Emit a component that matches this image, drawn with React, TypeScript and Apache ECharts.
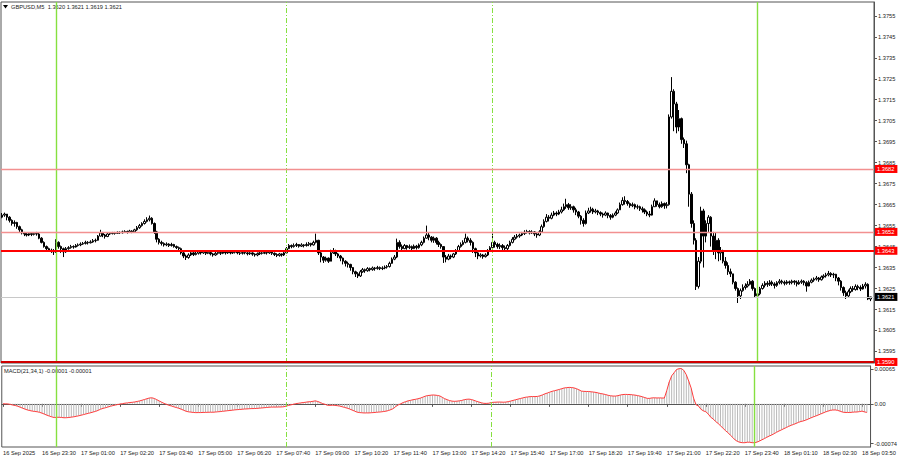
import React, { useEffect, useRef } from "react";
import * as echarts from "echarts";

// GBPUSD M5 bars. Prices are in points above 1.36000 (1 point = 0.00001).
const firstOpen = 590;
const closes = [
  600,605,590,575,560,565,545,530,515,510,
  505,512,508,512,510,490,470,450,440,432,
  430,425,470,450,440,425,440,445,450,448,
  455,458,462,465,470,468,472,478,480,500,
  515,505,498,510,512,515,513,518,516,520,
  522,518,524,520,530,540,550,560,570,578,
  585,560,520,485,470,465,458,462,455,460,
  450,445,440,420,405,398,410,420,412,418,
  425,420,426,418,422,415,410,418,422,418,
  424,420,425,420,423,426,420,418,422,420,
  416,420,414,410,416,420,418,422,420,425,
  418,412,408,415,410,420,440,455,450,455,
  460,452,458,455,460,465,458,470,480,420,
  400,385,395,380,420,430,415,405,395,380,
  370,365,350,330,320,310,330,340,335,345,
  340,348,345,350,345,348,352,355,370,390,
  400,470,450,440,455,445,450,440,452,445,
  458,470,490,505,495,480,490,470,460,450,
  400,390,405,400,415,430,450,460,470,490,
  480,470,440,420,405,410,402,410,430,445,
  470,460,450,455,445,440,455,470,485,495,
  500,505,512,518,522,515,520,510,505,520,
  545,570,590,585,600,610,605,615,625,640,
  650,635,640,625,615,595,575,560,610,620,
  628,615,620,612,605,600,610,598,590,600,
  610,625,650,670,665,655,645,650,638,640,
  630,625,615,605,600,640,668,650,640,655,
  645,650,1068,1190,1130,1020,1060,960,940,840,
  700,560,480,260,380,620,500,560,590,500,
  430,480,420,430,380,360,330,320,280,250,
  215,240,255,262,270,285,250,215,225,250,
  265,275,270,280,272,265,278,285,280,275,
  282,278,285,280,272,280,285,278,262,280,
  290,295,300,292,305,310,315,322,315,318,
  300,285,255,230,215,235,250,245,260,255,
  248,262,270,200,210,
];
const highs = [
  610,612,605,595,580,575,568,550,535,520,
  515,518,516,518,520,515,495,475,455,445,
  440,438,485,475,455,445,448,452,458,456,
  462,465,470,472,478,476,480,486,488,505,
  530,520,510,515,518,520,520,522,522,526,
  528,526,530,528,535,548,558,566,580,590,
  598,590,565,525,490,478,470,470,466,468,
  463,455,450,445,425,412,418,428,425,426,
  432,430,433,428,430,426,420,424,430,428,
  432,428,430,428,430,433,430,425,428,427,
  424,426,423,418,422,426,425,428,427,430,
  428,422,418,420,418,425,448,462,460,465,
  468,462,466,462,470,472,468,478,512,482,
  425,405,402,398,435,443,435,420,410,398,
  385,378,368,352,335,328,338,348,345,352,
  350,355,353,358,355,356,360,362,378,398,
  410,488,480,460,462,458,460,455,460,458,
  465,478,498,550,515,500,498,495,478,465,
  452,410,415,412,420,438,458,470,480,512,
  498,490,475,445,425,418,415,418,438,452,
  512,478,468,465,462,455,462,478,495,505,
  510,512,520,528,530,528,528,524,515,528,
  555,580,605,600,612,620,618,625,640,655,
  678,658,652,645,635,620,600,585,622,635,
  640,635,630,625,618,612,618,612,605,608,
  618,632,660,685,690,672,660,660,655,650,
  645,640,632,622,620,650,680,668,660,665,
  660,662,1080,1258,1200,1140,1101,1065,970,955,
  845,710,575,490,400,640,630,575,600,595,
  520,515,490,448,435,400,375,345,320,285,
  255,250,270,275,285,295,290,255,235,258,
  275,285,285,290,288,280,285,295,292,288,
  290,288,292,290,288,290,293,290,285,288,
  298,303,310,305,312,318,325,334,328,325,
  320,305,290,260,240,245,260,262,270,268,
  265,272,280,275,210,
];
const lows = [
  585,592,575,565,550,545,535,520,508,500,
  498,500,500,503,502,485,465,445,430,425,
  420,410,420,440,420,400,420,435,440,440,
  445,450,452,458,460,460,465,468,470,478,
  498,495,488,495,505,508,507,510,510,512,
  515,512,515,514,518,525,535,545,555,565,
  570,555,510,470,460,455,450,452,448,450,
  445,438,432,412,395,386,392,405,405,408,
  412,412,415,410,414,408,402,406,412,410,
  414,412,415,413,415,417,413,410,412,413,
  408,410,406,402,404,410,412,414,412,415,
  410,405,400,402,402,405,418,438,442,445,
  448,445,448,446,450,452,450,455,465,410,
  375,372,378,372,380,415,405,396,380,365,
  355,350,335,318,305,300,305,325,325,330,
  332,335,335,340,338,338,342,345,350,368,
  385,395,440,430,438,435,438,432,438,436,
  440,452,465,488,480,470,468,460,448,440,
  372,375,385,390,395,410,425,445,455,465,
  470,455,420,400,390,398,392,398,405,425,
  440,445,440,438,430,428,430,450,465,480,
  488,492,500,505,512,508,510,500,492,500,
  518,540,565,570,580,595,595,600,608,620,
  630,625,625,612,600,585,555,545,555,605,
  612,605,608,600,595,588,595,585,578,585,
  595,605,625,645,650,645,635,638,628,628,
  620,612,605,595,590,598,640,640,632,635,
  630,632,645,1060,1000,990,1000,940,920,800,
  640,540,460,243,250,370,350,470,520,450,
  410,390,380,385,370,345,315,305,270,240,
  181,200,235,245,255,265,240,205,200,218,
  245,255,258,262,262,250,258,270,270,265,
  268,268,270,268,260,268,272,265,235,260,
  275,282,288,282,288,298,302,308,305,300,
  285,265,240,215,200,210,228,235,240,242,
  238,245,250,195,190,
];

const symbolName = "GBPUSD,M5";
const macdTitle = "MACD(21,34,1) -0.00001 -0.00001";
const macdFast = 21;
const macdSlow = 34;

const timeLabels = [
  "16 Sep 2025", "16 Sep 23:30", "17 Sep 01:00", "17 Sep 02:20", "17 Sep 03:40",
  "17 Sep 05:00", "17 Sep 06:20", "17 Sep 07:40", "17 Sep 09:00", "17 Sep 10:20",
  "17 Sep 11:40", "17 Sep 13:00", "17 Sep 14:20", "17 Sep 15:40", "17 Sep 17:00",
  "17 Sep 18:20", "17 Sep 19:40", "17 Sep 21:00", "17 Sep 22:20", "17 Sep 23:40",
  "18 Sep 01:10", "18 Sep 02:30", "18 Sep 03:50",
];
const barsPerTimeLabel = 16;
const slotCount = 356;

const priceTicks = [
  1.3595, 1.3605, 1.3615, 1.3625, 1.3635, 1.3645, 1.3655, 1.3665, 1.3675,
  1.3685, 1.3695, 1.3705, 1.3715, 1.3725, 1.3735, 1.3745, 1.3755,
];
const macdTicks = [0.00065, 0, -0.00074];
const macdTickLabels = ["0.00065", "0.00", "-0.00074"];

const resistanceLevels = [1.3682, 1.3652];
const keyLevel = 1.3643;
const bidLevel = 1.3621;
const bottomLevel = 1.359;

const daySeparators = [22, 308];
const sessionMarks = [116, 200];

const FONT = '"Liberation Sans", Arial, sans-serif';
const FS = 5.7;

export default function App() {
  const ref = useRef<HTMLDivElement>(null);

  useEffect(() => {
    document.body.style.margin = "0";
    const chart = echarts.init(ref.current as HTMLDivElement, null, { renderer: "svg" });

    const toPx = (v: number) => 1.36 + v / 100000;
    const candles = closes.map((c, i) => {
      const o = i === 0 ? firstOpen : closes[i - 1];
      const h = Math.max(highs[i], o, c);
      const l = Math.min(lows[i], o, c);
      return [toPx(o), toPx(c), toPx(l), toPx(h)];
    });
    const last = candles[candles.length - 1];
    const header =
      symbolName + "  " + [last[0], last[3], last[2], last[1]].map((v) => v.toFixed(4)).join(" ");

    const kF = 2 / (macdFast + 1);
    const kS = 2 / (macdSlow + 1);
    let eF = toPx(closes[0]);
    let eS = toPx(closes[0]);
    const macd = closes.map((c) => {
      const p = toPx(c);
      eF += kF * (p - eF);
      eS += kS * (p - eS);
      return eF - eS;
    });

    const cats = Array.from({ length: slotCount }, (_, i) => String(i));
    const axisColor = "#555555";

    const tag = (txt: string, bg: string) => ({
      show: true,
      position: "end",
      formatter: txt,
      color: "#ffffff",
      backgroundColor: bg,
      padding: [1, 3, 1, 2],
      fontSize: FS,
      fontFamily: FONT,
      distance: 1,
    });

    const vLines = [
      ...daySeparators.map((x) => ({
        xAxis: x,
        lineStyle: { color: "#86e040", width: 1.4, type: "solid" },
        label: { show: false },
      })),
      ...sessionMarks.map((x) => ({
        xAxis: x,
        lineStyle: { color: "#86e040", width: 1, type: [5, 2, 1, 2] },
        label: { show: false },
      })),
    ];

    const hLines = [
      ...resistanceLevels.map((p) => ({
        yAxis: p,
        lineStyle: { color: "#f29090", width: 1.3, type: "solid" },
        label: tag(p.toFixed(4), "#ff0000"),
      })),
      {
        yAxis: keyLevel,
        lineStyle: { color: "#ff0000", width: 2, type: "solid" },
        label: tag(keyLevel.toFixed(4), "#ff0000"),
      },
      {
        yAxis: bidLevel,
        lineStyle: { color: "#c8c8c8", width: 1, type: "solid" },
        label: tag(bidLevel.toFixed(4), "#000000"),
      },
      {
        yAxis: bottomLevel,
        lineStyle: { color: "#d00000", width: 2, type: "solid" },
        label: tag(bottomLevel.toFixed(4), "#ff0000"),
      },
    ];

    const option: any = {
      animation: false,
      backgroundColor: "#ffffff",
      textStyle: { fontFamily: FONT },
      grid: [
        { left: 1, right: 26, top: 2, height: 361, show: true, borderColor: axisColor, borderWidth: 1 },
        { left: 1, right: 26, top: 366, height: 81, show: true, borderColor: axisColor, borderWidth: 1 },
      ],
      xAxis: [
        {
          type: "category",
          gridIndex: 0,
          data: cats,
          boundaryGap: true,
          axisLine: { show: false },
          axisTick: { show: false },
          axisLabel: { show: false },
          splitLine: { show: false },
        },
        {
          type: "category",
          gridIndex: 1,
          data: cats,
          boundaryGap: true,
          axisLine: { show: true, lineStyle: { color: axisColor } },
          axisTick: {
            show: true,
            interval: barsPerTimeLabel - 1,
            alignWithLabel: true,
            length: 3,
            lineStyle: { color: axisColor },
          },
          axisLabel: {
            show: true,
            interval: barsPerTimeLabel - 1,
            formatter: (_v: string, idx: number) =>
              idx % barsPerTimeLabel === 0 ? timeLabels[idx / barsPerTimeLabel] || "" : "",
            align: "left",
            fontSize: FS,
            fontFamily: FONT,
            color: "#222222",
            margin: 3,
          },
          splitLine: { show: false },
        },
      ],
      yAxis: [
        {
          type: "value",
          gridIndex: 0,
          position: "right",
          min: 1.35895,
          max: 1.37616,
          axisLine: { show: true, lineStyle: { color: axisColor } },
          axisTick: { show: true, customValues: priceTicks, length: 3, lineStyle: { color: axisColor } },
          axisLabel: {
            show: true,
            customValues: priceTicks,
            formatter: (v: number) => v.toFixed(4),
            fontSize: FS,
            fontFamily: FONT,
            color: "#222222",
            margin: 4,
          },
          splitLine: { show: false },
        },
        {
          type: "value",
          gridIndex: 1,
          position: "right",
          min: -0.000805,
          max: 0.000706,
          axisLine: { show: true, lineStyle: { color: axisColor } },
          axisTick: { show: true, customValues: macdTicks, length: 3, lineStyle: { color: axisColor } },
          axisLabel: {
            show: true,
            customValues: macdTicks,
            formatter: (v: number) => {
              const i = macdTicks.findIndex((t) => Math.abs(t - v) < 1e-9);
              return i >= 0 ? macdTickLabels[i] : "";
            },
            fontSize: FS,
            fontFamily: FONT,
            color: "#222222",
            margin: 4,
          },
          splitLine: { show: false },
        },
      ],
      series: [
        {
          type: "candlestick",
          xAxisIndex: 0,
          yAxisIndex: 0,
          data: candles,
          barWidth: 2,
          itemStyle: {
            color: "#ffffff",
            color0: "#000000",
            borderColor: "#000000",
            borderColor0: "#000000",
            borderWidth: 1,
          },
          markLine: {
            silent: true,
            symbol: ["none", "none"],
            animation: false,
            precision: 6,
            data: vLines,
          },
        },
        {
          type: "line",
          name: "levels",
          xAxisIndex: 0,
          yAxisIndex: 0,
          data: closes.map(() => null),
          showSymbol: false,
          symbol: "none",
          lineStyle: { width: 0 },
          z: 3,
          markLine: {
            silent: true,
            symbol: ["none", "none"],
            animation: false,
            precision: 6,
            data: hLines,
          },
        },
        {
          type: "bar",
          xAxisIndex: 1,
          yAxisIndex: 1,
          data: macd,
          barWidth: 1,
          itemStyle: { color: "#b8b8b8" },
          markLine: {
            silent: true,
            symbol: ["none", "none"],
            animation: false,
            precision: 8,
            data: vLines,
          },
        },
        {
          type: "line",
          xAxisIndex: 1,
          yAxisIndex: 1,
          data: macd,
          showSymbol: false,
          symbol: "none",
          lineStyle: { color: "#ff3c3c", width: 1 },
        },
      ],
      graphic: [
        {
          type: "polygon",
          shape: { points: [[3, 5], [8, 5], [5.5, 8.5]] },
          style: { fill: "#000000" },
        },
        {
          type: "text",
          x: 11,
          y: 3.5,
          style: { text: header, fontSize: FS, fontFamily: FONT, fill: "#222222", verticalAlign: "top" },
        },
        {
          type: "text",
          x: 4,
          y: 368,
          style: { text: macdTitle, fontSize: FS, fontFamily: FONT, fill: "#222222", verticalAlign: "top" },
        },
      ],
    };

    chart.setOption(option);
    return () => chart.dispose();
  }, []);

  return (
    <div
      ref={ref}
      style={{ position: "absolute", left: 0, top: 0, width: 900, height: 460, background: "#ffffff" }}
    />
  );
}
